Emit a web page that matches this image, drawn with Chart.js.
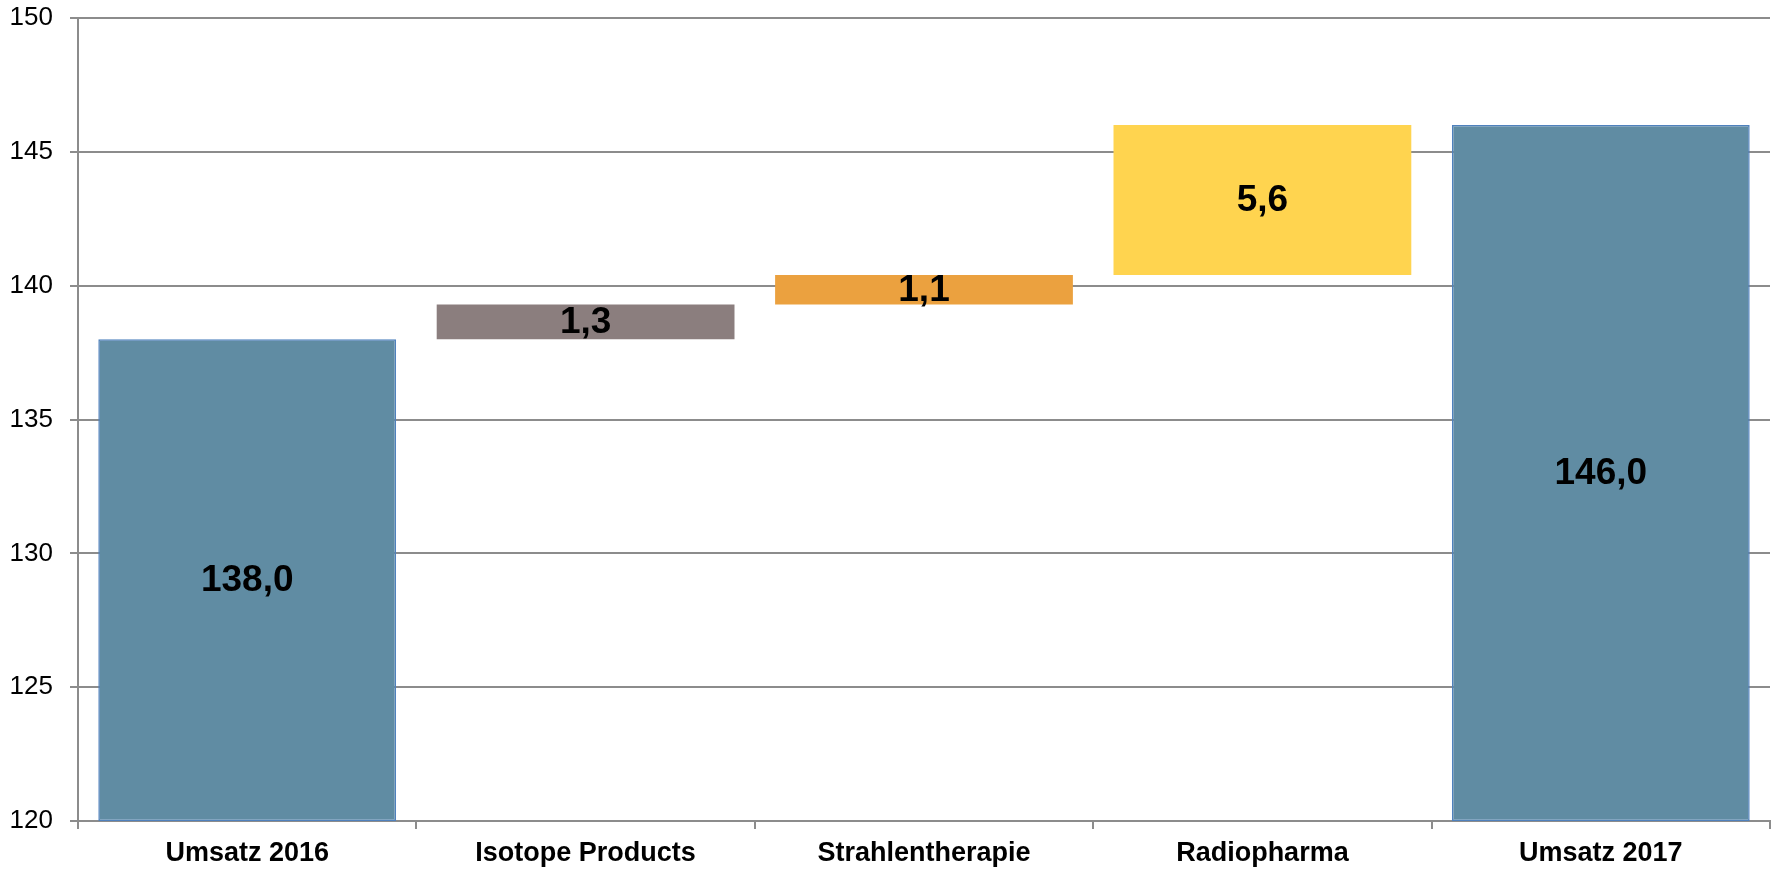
<!DOCTYPE html>
<html>
<head>
<meta charset="utf-8">
<script src="https://cdn.jsdelivr.net/npm/chart.js@4/dist/chart.umd.min.js"></script>
<style>
  html, body { margin: 0; padding: 0; background: #fff; }
  #wrap { width: 1775px; height: 869px; position: relative; }
</style>
</head>
<body>
<div id="wrap"><canvas id="chart"></canvas></div>
<script>
// Umsatzbrücke 2016 -> 2017
const categories = ['Umsatz 2016', 'Isotope Products', 'Strahlentherapie', 'Radiopharma', 'Umsatz 2017'];
const values = [138.0, 1.3, 1.1, 5.6, 146.0];
const isTotal = [true, false, false, false, true];
const yTicks = [120, 125, 130, 135, 140, 145, 150];
const barColors = ['#608ca3', '#8b7e7e', '#eba13f', '#ffd44f', '#608ca3'];

const yMin = yTicks[0];
const yMax = yTicks[yTicks.length - 1];

// Wasserfall: Summen beginnen unten, Veränderungen setzen am laufenden Stand an
let running = 0;
const ranges = values.map((v, i) => {
    if (isTotal[i]) {
        running = v;
        return [yMin, v];
    }
    const start = running;
    running = +(running + v).toFixed(1);
    return [start, running];
});

const fmt = v => v.toFixed(1).replace('.', ',');

const valueLabels = {
    id: 'valueLabels',
    afterDatasetsDraw(chart) {
        const ctx = chart.ctx;
        const meta = chart.getDatasetMeta(0);
        ctx.save();
        ctx.font = 'bold 37px "Liberation Sans", Arial, sans-serif';
        ctx.fillStyle = '#000';
        ctx.textAlign = 'center';
        ctx.textBaseline = 'middle';
        meta.data.forEach((bar, i) => {
            ctx.fillText(fmt(values[i]), bar.x, (bar.y + bar.base) / 2 + 1);
        });
        ctx.restore();
    }
};

const gridGrey = '#8c8c8c';

const ctx = document.getElementById('chart').getContext('2d');
new Chart(ctx, {
    type: 'bar',
    data: {
        labels: categories,
        datasets: [{
            data: ranges,
            backgroundColor: barColors,
            borderColor: isTotal.map(t => t ? '#4f81bd' : 'rgba(0,0,0,0)'),
            borderWidth: isTotal.map(t => t ? 1.5 : 0),
            borderSkipped: false,
            barPercentage: 0.88,
            categoryPercentage: 1.0
        }]
    },
    options: {
        responsive: true,
        maintainAspectRatio: false,
        animation: false,
        layout: { padding: { top: 18, right: 5, left: 0, bottom: 0 } },
        plugins: {
            legend: { display: false },
            tooltip: { enabled: false }
        },
        scales: {
            x: {
                grid: {
                    drawOnChartArea: false,
                    drawTicks: true,
                    tickLength: 8,
                    color: gridGrey,
                    lineWidth: 2
                },
                border: { color: gridGrey, width: 2 },
                ticks: {
                    color: '#000',
                    padding: 8,
                    font: { family: '"Liberation Sans", Arial, sans-serif', size: 27, weight: 'bold' }
                },
                afterFit(scale) {
                    scale.height = 48;
                    scale.paddingLeft = 0;
                    scale.paddingRight = 0;
                }
            },
            y: {
                min: yMin,
                max: yMax,
                afterBuildTicks(scale) {
                    scale.ticks = yTicks.map(v => ({ value: v }));
                },
                grid: {
                    color: gridGrey,
                    lineWidth: 2,
                    tickLength: 8
                },
                border: { color: gridGrey, width: 2 },
                ticks: {
                    color: '#000',
                    padding: 17,
                    font: { family: '"Liberation Sans", Arial, sans-serif', size: 26 }
                },
                afterFit(scale) {
                    scale.width = 78;
                    scale.paddingTop = 0;
                    scale.paddingBottom = 0;
                }
            }
        }
    },
    plugins: [valueLabels]
});
</script>
</body>
</html>
